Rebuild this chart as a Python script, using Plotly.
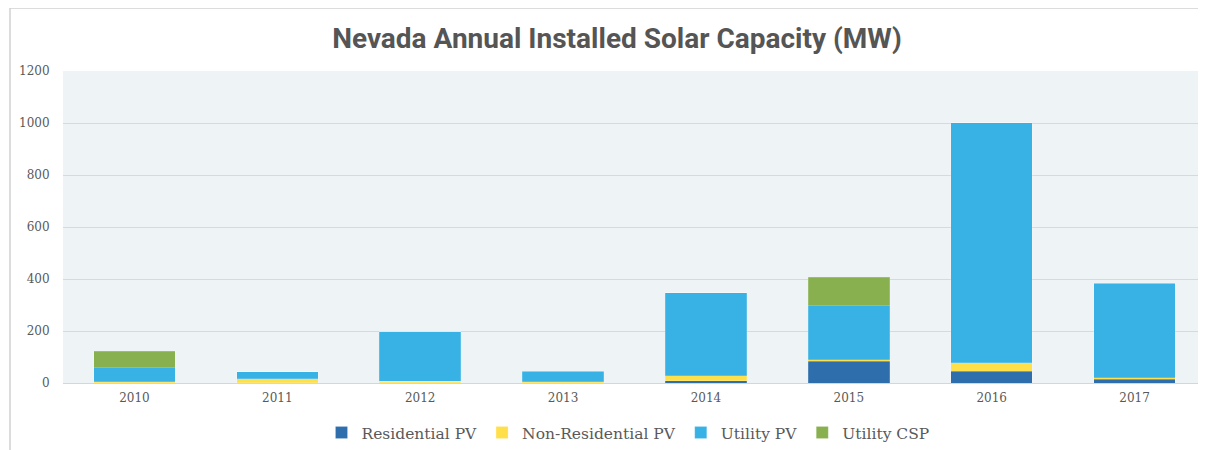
import plotly.graph_objects as go

years = ["2010", "2011", "2012", "2013", "2014", "2015", "2016", "2017"]
residential_pv = [1, 1, 1, 1, 8, 83, 46, 15]
non_residential_pv = [3, 16, 5, 3, 19, 7, 31, 6]
utility_pv = [55, 26, 191, 41, 320, 207, 924, 362]
utility_csp = [63, 0, 0, 0, 0, 110, 0, 0]

series = [
    ("Residential PV", residential_pv, "#2E6EAD"),
    ("Non-Residential PV", non_residential_pv, "#FFE04A"),
    ("Utility PV", utility_pv, "#38B2E4"),
    ("Utility CSP", utility_csp, "#88B04F"),
]

fig = go.Figure()
for name, vals, color in series:
    fig.add_trace(go.Bar(
        x=years, y=vals, name=name,
        marker=dict(color=color, line=dict(color="rgba(255,255,255,0.35)", width=0.5)),
    ))

# page body has an 8px default margin; work in window coords and convert
OFF = 8
W, H = 1206 - OFF, 450 - OFF
L, R, T, B = 63 - OFF, 0, 71 - OFF, 450 - 383
pw, ph = W - L - R, H - T - B

def px_x(xw):
    return (xw - OFF - L) / pw

def px_y(yw):
    return (H - B - (yw - OFF)) / ph

fig.update_layout(
    width=W, height=H,
    barmode="stack", bargap=0.43,
    margin=dict(l=L, r=R, t=T, b=B, autoexpand=False),
    paper_bgcolor="white",
    plot_bgcolor="#EEF3F6",
    title=dict(
        text="<b>Nevada Annual Installed Solar Capacity (MW)</b>",
        x=(617 - OFF) / W, xanchor="center", y=1 - (38 - OFF) / H, yanchor="middle",
        font=dict(family="Roboto", size=28, color="#555555"),
    ),
    xaxis=dict(
        automargin=False,
        showline=True, linecolor="#D6D6D6", linewidth=1,
        ticks="outside", ticklen=4, tickcolor="rgba(0,0,0,0)",
        tickfont=dict(family="DejaVu Serif", size=12, color="#595959"),
    ),
    yaxis=dict(
        automargin=False,
        range=[0, 1200], tickvals=[0, 200, 400, 600, 800, 1000, 1200],
        showgrid=True, gridcolor="#D9D9D9", gridwidth=1,
        zeroline=False,
        ticks="outside", ticklen=10, tickcolor="rgba(0,0,0,0)",
        tickfont=dict(family="DejaVu Serif", size=12, color="#595959"),
    ),
    legend=dict(
        orientation="h", xref="container", yref="container",
        x=(628 - OFF) / W, xanchor="center", y=1 - (433 - OFF) / H, yanchor="middle",
        font=dict(family="DejaVu Serif", size=15.5, color="#595959"),
        itemwidth=30, traceorder="normal",
    ),
    showlegend=True,
    shapes=[
        dict(type="line", xref="paper", yref="paper",
             x0=px_x(10), x1=px_x(10), y0=px_y(8), y1=px_y(450),
             line=dict(color="#D0D0D0", width=1.5)),
        dict(type="line", xref="paper", yref="paper",
             x0=px_x(10), x1=px_x(1206), y0=px_y(8), y1=px_y(8),
             line=dict(color="#D0D0D0", width=1.5)),
    ],
)

fig.write_html("out.html")
